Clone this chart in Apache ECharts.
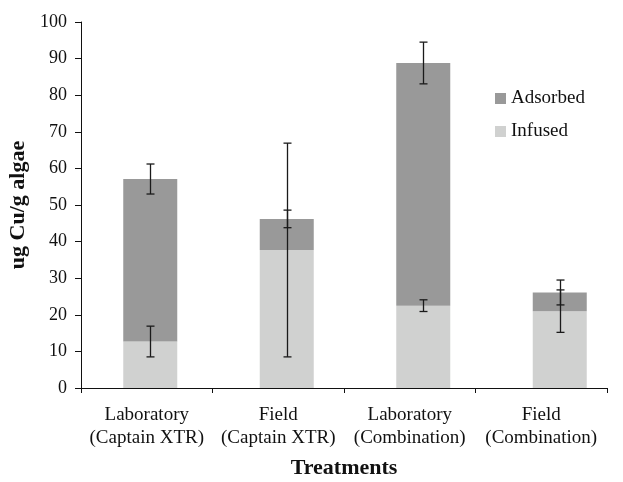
<!DOCTYPE html>
<html>
<head>
<meta charset="utf-8">
<script src="https://cdn.jsdelivr.net/npm/echarts@6/dist/echarts.min.js"></script>
<style>
html,body{margin:0;padding:0;background:#fff;}
#chart{width:623px;height:482px;}
</style>
</head>
<body>
<div id="chart"></div>
<script>
var categories = ['Laboratory\n(Captain XTR)', 'Field\n(Captain XTR)', 'Laboratory\n(Combination)', 'Field\n(Combination)'];
var infused = [12.7, 37.7, 22.5, 21.0];
var adsorbed = [44.4, 8.5, 66.3, 5.1];
var infusedErr = [4.2, 29.2, 1.6, 5.8];
var totalErr = [4.1, 2.4, 5.7, 3.4];
var yTicks = [0, 10, 20, 30, 40, 50, 60, 70, 80, 90, 100];

var FONT = '"Liberation Serif", "Times New Roman", serif';

var errData = [];
infused.forEach(function (v, i) {
  errData.push([i, v - infusedErr[i], v + infusedErr[i]]);
  var t = v + adsorbed[i];
  errData.push([i, t - totalErr[i], t + totalErr[i]]);
});

var chart = echarts.init(document.getElementById('chart'), null, {renderer: 'canvas'});
chart.setOption({
  animation: false,
  backgroundColor: '#fff',
  textStyle: {fontFamily: FONT},
  grid: [
    {left: 81, right: 16, top: 22, bottom: 94, containLabel: false, outerBoundsMode: 'none'},
    {left: 82, width: 546, top: 22, bottom: 94, containLabel: false, outerBoundsMode: 'none'}
  ],
  legend: {
    orient: 'vertical',
    left: 490, top: 84,
    icon: 'rect', itemWidth: 11, itemHeight: 11, itemGap: 14,
    data: ['Adsorbed', 'Infused'],
    textStyle: {fontFamily: FONT, fontSize: 19, color: '#111'}
  },
  xAxis: [{
    type: 'category',
    gridIndex: 0,
    data: categories,
    name: 'Treatments',
    nameLocation: 'middle',
    nameGap: 69,
    nameTextStyle: {fontFamily: FONT, fontSize: 22, fontWeight: 'bold', color: '#111'},
    axisLine: {lineStyle: {color: '#111', width: 1}},
    axisTick: {show: true, length: 5, lineStyle: {color: '#111'}},
    axisLabel: {fontFamily: FONT, fontSize: 19, color: '#111', margin: 16, lineHeight: 23, interval: 0}
  }, {
    type: 'category',
    gridIndex: 1,
    data: categories,
    show: false
  }],
  yAxis: [{
    type: 'value',
    gridIndex: 0,
    min: 0, max: 100, interval: 10,
    name: 'ug Cu/g algae',
    nameLocation: 'middle',
    nameGap: 41,
    nameTextStyle: {fontFamily: FONT, fontSize: 22, fontWeight: 'bold', color: '#111'},
    axisLine: {show: true, lineStyle: {color: '#111', width: 1}},
    axisTick: {show: true, length: 6, lineStyle: {color: '#111'}},
    axisLabel: {fontFamily: FONT, fontSize: 18, color: '#111', margin: 14,
      formatter: function (v) { return yTicks.indexOf(v) >= 0 ? String(v) : ''; }},
    splitLine: {show: false}
  }, {
    type: 'value',
    gridIndex: 1,
    min: 0, max: 100, interval: 10,
    show: false,
    splitLine: {show: false}
  }],
  series: [{
    name: 'Infused',
    type: 'bar',
    xAxisIndex: 1, yAxisIndex: 1,
    stack: 'total',
    barWidth: 54,
    itemStyle: {color: '#d0d1d0'},
    data: infused
  }, {
    name: 'Adsorbed',
    type: 'bar',
    xAxisIndex: 1, yAxisIndex: 1,
    stack: 'total',
    barWidth: 54,
    itemStyle: {color: '#999999'},
    data: adsorbed
  }, {
    type: 'custom',
    xAxisIndex: 1, yAxisIndex: 1,
    z: 10,
    silent: true,
    data: errData,
    renderItem: function (params, api) {
      var x = api.value(0);
      var lo = api.coord([x, api.value(1)]);
      var hi = api.coord([x, api.value(2)]);
      var cx = Math.round(lo[0]) + 0.5;
      var s = {stroke: '#1a1a1a', lineWidth: 1.3};
      return {
        type: 'group',
        children: [
          {type: 'line', shape: {x1: cx, y1: lo[1], x2: cx, y2: hi[1]}, style: s},
          {type: 'line', shape: {x1: cx - 4, y1: lo[1], x2: cx + 4, y2: lo[1]}, style: s},
          {type: 'line', shape: {x1: cx - 4, y1: hi[1], x2: cx + 4, y2: hi[1]}, style: s}
        ]
      };
    }
  }]
});
</script>
</body>
</html>
